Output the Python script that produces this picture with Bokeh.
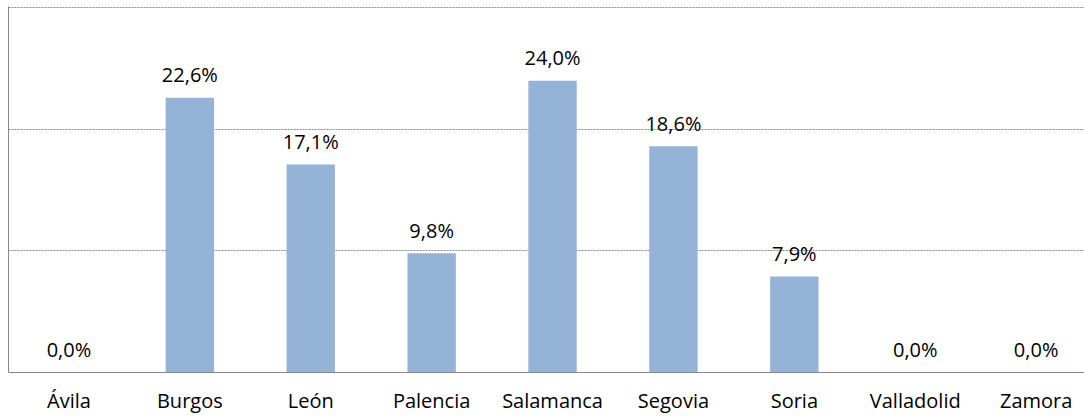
from bokeh.plotting import figure
from bokeh.models import Range1d, FixedTicker, ColumnDataSource
from bokeh.core.properties import value
from bokeh.embed import file_html
from bokeh.resources import INLINE

categories = ["Ávila", "Burgos", "León", "Palencia", "Salamanca", "Segovia", "Soria", "Valladolid", "Zamora"]
values = [0.0, 22.6, 17.1, 9.8, 24.0, 18.6, 7.9, 0.0, 0.0]
grid_ticks = [10, 20, 30]

idx = list(range(len(categories)))
labels = [f"{v:.1f}%".replace(".", ",") for v in values]
src = ColumnDataSource(dict(x=idx, top=values, label=labels))

FONT = "Open Sans"

p = figure(width=1084, height=416, output_backend="svg", toolbar_location=None,
           x_range=Range1d(-0.5, 8.4), y_range=Range1d(0, 30.1),
           min_border_left=8, min_border_right=0, min_border_top=6, min_border_bottom=0)
p.outline_line_color = None
p.background_fill_color = "white"
p.border_fill_color = "white"

p.vbar(x="x", top="top", width=0.4, source=src, color="#95B3D7", line_color=None)
p.text(x="x", y="top", text="label", source=src, text_align="center", text_baseline="alphabetic",
       y_offset=-23, text_font=value(FONT), text_font_size="20px", text_color="#000000")

p.xgrid.visible = False
p.ygrid.ticker = FixedTicker(ticks=grid_ticks)
p.ygrid.grid_line_color = "#8a8a8a"
p.ygrid.grid_line_dash = "2 1"
p.ygrid.grid_line_width = 1

p.xaxis.ticker = FixedTicker(ticks=idx)
p.xaxis.major_label_overrides = {i: c for i, c in enumerate(categories)}
p.xaxis.major_tick_line_color = None
p.xaxis.minor_tick_line_color = None
p.xaxis.axis_line_color = "#888888"
p.xaxis.axis_line_width = 1
p.xaxis.major_label_text_font = FONT
p.xaxis.major_label_text_font_size = "20px"
p.xaxis.major_label_text_color = "#000000"
p.xaxis.major_label_standoff = 8

p.yaxis.ticker = FixedTicker(ticks=[])
p.yaxis.major_tick_line_color = None
p.yaxis.minor_tick_line_color = None
p.yaxis.major_label_text_font_size = "0px"
p.yaxis.major_label_standoff = 0
p.yaxis.axis_line_color = "#888888"

open("out.html", "w").write(file_html(p, INLINE))
